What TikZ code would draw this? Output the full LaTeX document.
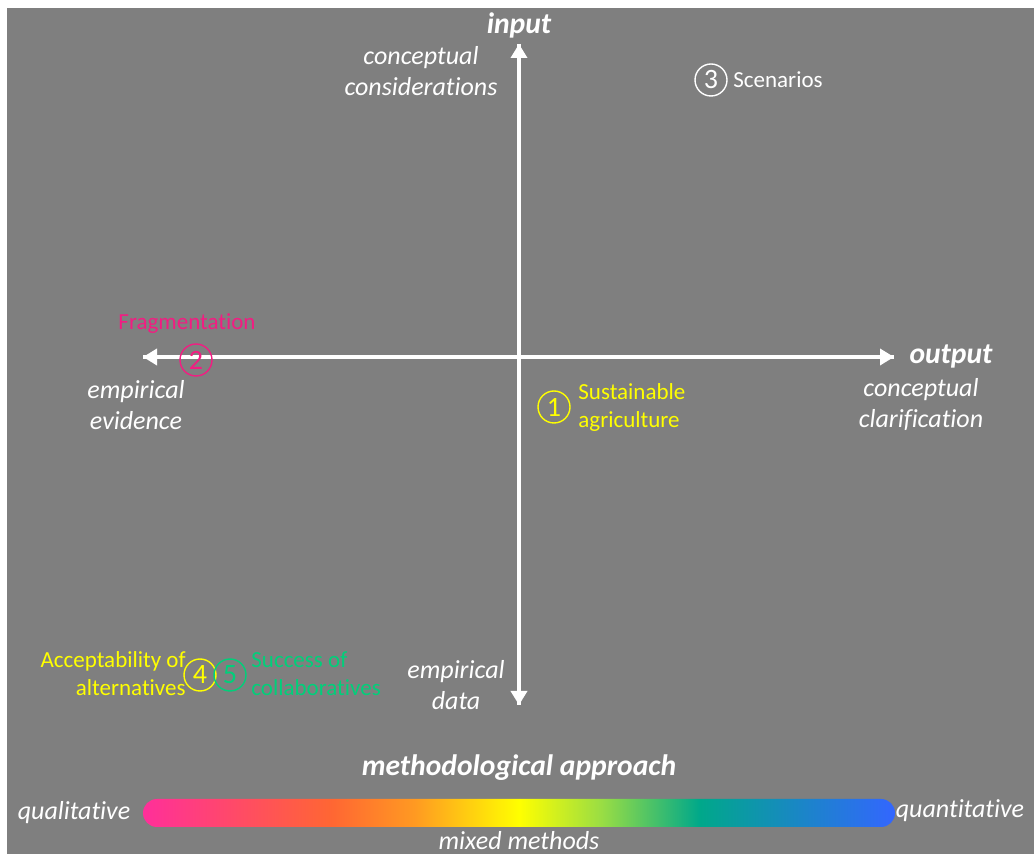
\documentclass[tikz,border=0pt]{standalone}
\usepackage{fontspec}
\setmainfont[Ligatures=NoCommon]{Carlito}
\usetikzlibrary{arrows.meta}
\definecolor{panel}{HTML}{7F7F7F}
\definecolor{fragpink}{HTML}{F21D82}
\definecolor{markyellow}{HTML}{FFFF00}
\definecolor{markgreen}{HTML}{00D07A}
\definecolor{barA}{HTML}{FF2F9A}
\definecolor{barB}{HTML}{FF6633}
\definecolor{barC}{HTML}{FF9922}
\definecolor{barD}{HTML}{FFFF00}
\definecolor{barE}{HTML}{99DD44}
\definecolor{barF}{HTML}{00A88A}
\definecolor{barG}{HTML}{3366FF}
% stops placed between 25bp and 75bp, the span mapped onto the path
\pgfdeclarehorizontalshading{methbar}{100bp}{%
  color(0bp)=(barA); color(25bp)=(barA); color(37.5bp)=(barB);
  color(43bp)=(barC); color(50bp)=(barD); color(55.5bp)=(barE);
  color(62bp)=(barF); color(75bp)=(barG); color(100bp)=(barG)}
\begin{document}
\begin{tikzpicture}[x=0.5pt,y=-0.5pt,
  axis/.style={draw=white,line width=2pt,-{Triangle[length=7pt,width=8pt]}},
  axislabel/.style={text=white,font=\fontsize{13}{15.5}\selectfont\itshape,align=center,inner sep=0pt},
  axistitle/.style={text=white,font=\fontsize{14.8}{16}\selectfont\bfseries\itshape,inner sep=0pt},
  marker/.style={circle,draw=#1,text=#1,line width=0.7pt,minimum size=16pt,inner sep=0pt,font=\fontsize{14}{14}\selectfont},
  tag/.style={text=#1,font=\fontsize{11.5}{14}\selectfont,inner sep=0pt}]
% page and panel
\useasboundingbox (0,0) rectangle (1034,854);
\fill[white] (0,0) rectangle (1034,854);
\fill[panel] (7,8) rectangle (1034,854);

% axes
\coordinate (ytop) at (519,44);
\coordinate (ybot) at (519,705);
\coordinate (xleft) at (143,357);
\coordinate (xright) at (894,357);
\draw[axis] (ybot) -- (ytop);
\draw[axis] (ytop) -- (ybot);
\draw[axis] (xright) -- (xleft);
\draw[axis] (xleft) -- (xright);

% axis titles and end labels
\node[axistitle] (input) at (519,25) {input};
\node[axistitle] (output) at (951,356) {output};
\node[axislabel] (cons) at (421,71) {conceptual\\considerations};
\node[axislabel] (evid) at (136,405) {empirical\\evidence};
\node[axislabel] (clar) at (921,405) {conceptual\\clarification};
\node[axislabel] (data) at (456,685) {empirical\\data};

% numbered positions
\node[marker=white] (m3) at (711,80) {3};
\node[tag=white,anchor=west] (scen) at (733,80) {Scenarios};

\node[marker=fragpink] (m2) at (196,360) {2};
\node[tag=fragpink] (frag) at (187,324) {Fragmentation};

\node[marker=markyellow] (m1) at (554,407) {1};
\node[tag=markyellow,anchor=west,align=left] (sust) at (578,407) {Sustainable\\agriculture};

\node[marker=markyellow] (m4) at (200,675) {4};
\node[tag=markyellow,anchor=east,align=right] (acc) at (186,674) {Acceptability of\\alternatives};

\node[marker=markgreen] (m5) at (230,675) {5};
\node[tag=markgreen,anchor=west,align=left] (succ) at (251,674) {Success of\\collaboratives};

% methodological scale
\node[axistitle] (meth) at (519,768) {methodological approach};
\shade[shading=methbar,rounded corners=7pt] (143,799) rectangle (895,827);
\node[axislabel] (qual) at (74,813) {qualitative};
\node[axislabel] (quant) at (960,811) {quantitative};
\node[axislabel] (mixed) at (519,841) {mixed methods};
\end{tikzpicture}
\end{document}
